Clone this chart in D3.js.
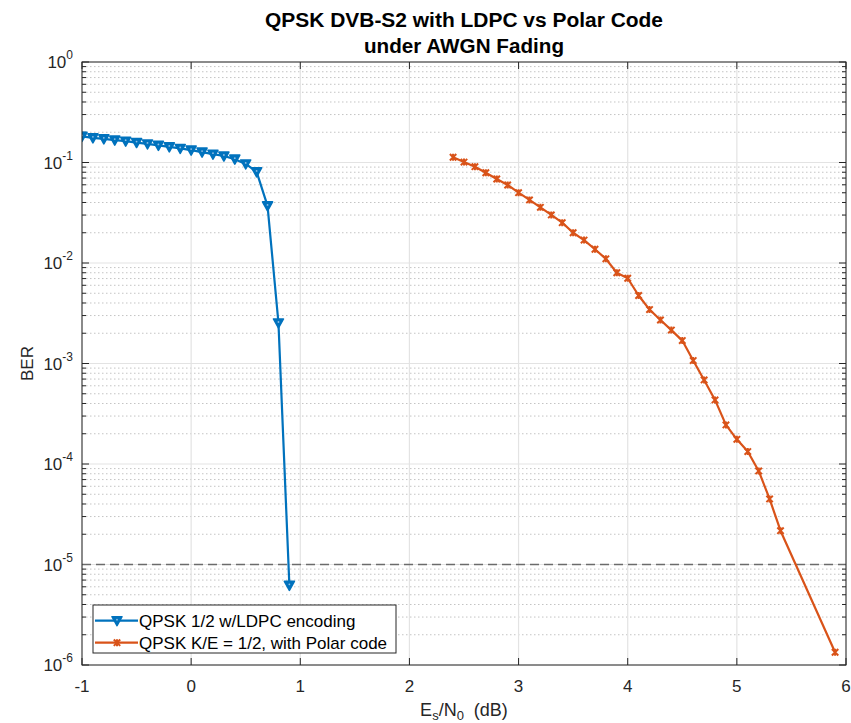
<!DOCTYPE html>
<html>
<head>
<meta charset="utf-8">
<script src="https://cdn.jsdelivr.net/npm/d3@7"></script>
<style>
  html, body { margin: 0; padding: 0; background: #fff; }
  svg { display: block; font-family: "Liberation Sans", Arial, sans-serif; }
</style>
</head>
<body>
<div id="chart"></div>
<script>
// data
const ldpcSnr = [-1.0, -0.9, -0.8, -0.7, -0.6, -0.5, -0.4, -0.3, -0.2, -0.1, 0.0, 0.1, 0.2, 0.3, 0.4, 0.5, 0.6, 0.7, 0.8, 0.9]
const ldpcBer = [0.182, 0.176, 0.172, 0.167, 0.163, 0.158, 0.153, 0.148, 0.143, 0.138, 0.133, 0.127, 0.121, 0.116, 0.108, 0.0967, 0.0806, 0.037, 0.00253, 6.2e-6]

const polarSnr = [2.4, 2.5, 2.6, 2.7, 2.8, 2.9, 3.0, 3.1, 3.2, 3.3, 3.4, 3.5, 3.6, 3.7, 3.8, 3.9, 4.0, 4.1, 4.2, 4.3, 4.4, 4.5, 4.6, 4.7, 4.8, 4.9, 5.0, 5.1, 5.2, 5.3, 5.4, 5.9]
const polarBer = [0.1127, 0.101, 0.0908, 0.0791, 0.0685, 0.0597, 0.0501, 0.0424, 0.0358, 0.0301, 0.0252, 0.0200, 0.0169, 0.0137, 0.0110, 0.0080, 0.00705, 0.00475, 0.00344, 0.00271, 0.00215, 0.00169, 0.00107, 0.000686, 0.000434, 0.000245, 0.000176, 0.000133, 8.53e-5, 4.49e-5, 2.17e-5, 1.34e-6]

const xTicks = [-1, 0, 1, 2, 3, 4, 5, 6]
const yExponents = [0, -1, -2, -3, -4, -5, -6]
const targetBer = 1e-5

const titleLines = ['QPSK DVB-S2 with LDPC vs Polar Code', 'under AWGN Fading']
const legendLabels = ['QPSK 1/2 w/LDPC encoding', 'QPSK K/E = 1/2, with Polar code']

const W = 851, H = 723
const M = { left: 82, top: 62, right: 5, bottom: 58 }
const plotW = W - M.left - M.right
const plotH = H - M.top - M.bottom

const BLUE = '#0072BD'
const ORANGE = '#D95319'
const AX = '#262626'

const svg = d3.select('#chart').append('svg').attr('width', W).attr('height', H)

const x = d3.scaleLinear().domain([-1, 6]).range([0, plotW])
const y = d3.scaleLog().domain([1e-6, 1]).range([plotH, 0])

svg.append('defs').append('clipPath').attr('id', 'plot-clip')
  .append('rect').attr('width', plotW).attr('height', plotH)

const g = svg.append('g').attr('transform', `translate(${M.left},${M.top})`)

// minor y grid (dotted)
const minorVals = []
yExponents.slice(1).forEach(e => {
  for (let k = 2; k <= 9; k++) minorVals.push(k * Math.pow(10, e))
})
g.append('g').selectAll('line').data(minorVals).join('line')
  .attr('x1', 0).attr('x2', plotW)
  .attr('y1', d => y(d)).attr('y2', d => y(d))
  .attr('stroke', '#c4c4c4').attr('stroke-width', 1).attr('stroke-dasharray', '1.5,2.5')

// major grid
g.append('g').selectAll('line').data(yExponents).join('line')
  .attr('x1', 0).attr('x2', plotW)
  .attr('y1', d => y(Math.pow(10, d))).attr('y2', d => y(Math.pow(10, d)))
  .attr('stroke', '#e3e3e3').attr('stroke-width', 1.2)
g.append('g').selectAll('line').data(xTicks).join('line')
  .attr('x1', d => x(d)).attr('x2', d => x(d))
  .attr('y1', 0).attr('y2', plotH)
  .attr('stroke', '#e3e3e3').attr('stroke-width', 1.2)

// axes with inward ticks on all four sides
const tickG = g.append('g').attr('stroke', AX).attr('stroke-width', 1)
xTicks.forEach(t => {
  tickG.append('line').attr('x1', x(t)).attr('x2', x(t)).attr('y1', plotH).attr('y2', plotH - 7)
  tickG.append('line').attr('x1', x(t)).attr('x2', x(t)).attr('y1', 0).attr('y2', 7)
})
yExponents.forEach(e => {
  const yy = y(Math.pow(10, e))
  tickG.append('line').attr('x1', 0).attr('x2', 7).attr('y1', yy).attr('y2', yy)
  tickG.append('line').attr('x1', plotW).attr('x2', plotW - 7).attr('y1', yy).attr('y2', yy)
})
minorVals.forEach(v => {
  const yy = y(v)
  tickG.append('line').attr('x1', 0).attr('x2', 4).attr('y1', yy).attr('y2', yy)
  tickG.append('line').attr('x1', plotW).attr('x2', plotW - 4).attr('y1', yy).attr('y2', yy)
})

// target BER reference line
g.append('line')
  .attr('x1', 0).attr('x2', plotW)
  .attr('y1', y(targetBer)).attr('y2', y(targetBer))
  .attr('stroke', '#6b6b6b').attr('stroke-width', 1.6).attr('stroke-dasharray', '9,5')

// series
const ldpc = ldpcSnr.map((s, i) => ({ s, b: ldpcBer[i] }))
const polar = polarSnr.map((s, i) => ({ s, b: polarBer[i] }))
const line = d3.line().x(d => x(d.s)).y(d => y(d.b))

const dataG = g.append('g').attr('clip-path', 'url(#plot-clip)')
dataG.append('path').datum(ldpc).attr('d', line)
  .attr('fill', 'none').attr('stroke', BLUE).attr('stroke-width', 2.2).attr('stroke-linejoin', 'round')
dataG.append('path').datum(polar).attr('d', line)
  .attr('fill', 'none').attr('stroke', ORANGE).attr('stroke-width', 2.2).attr('stroke-linejoin', 'round')

function triDown(sel, cx, cy) {
  sel.append('path')
    .attr('d', `M${cx - 5},${cy - 4}L${cx + 5},${cy - 4}L${cx},${cy + 5}Z`)
    .attr('fill', BLUE).attr('stroke', BLUE).attr('stroke-width', 1.6).attr('stroke-linejoin', 'round')
  sel.append('circle').attr('cx', cx).attr('cy', cy - 1).attr('r', 0.9).attr('fill', '#8fbde3')
}
function cross(sel, cx, cy) {
  sel.append('path')
    .attr('d', `M${cx - 3.2},${cy - 3.2}L${cx + 3.2},${cy + 3.2}M${cx - 3.2},${cy + 3.2}L${cx + 3.2},${cy - 3.2}M${cx},${cy - 3.5}L${cx},${cy + 3.5}`)
    .attr('stroke', ORANGE).attr('stroke-width', 2).attr('fill', 'none')
}
ldpc.forEach(d => triDown(dataG, x(d.s), y(d.b)))
polar.forEach(d => cross(dataG, x(d.s), y(d.b)))

// box
g.append('rect').attr('width', plotW).attr('height', plotH)
  .attr('fill', 'none').attr('stroke', AX).attr('stroke-width', 1)

// tick labels
g.append('g').selectAll('text').data(xTicks).join('text')
  .attr('x', d => x(d)).attr('y', plotH + 27)
  .attr('text-anchor', 'middle').attr('font-size', 17).attr('fill', AX)
  .text(d => d)

const yl = g.append('g').selectAll('text').data(yExponents).join('text')
  .attr('x', -9).attr('y', d => y(Math.pow(10, d)) + 6)
  .attr('text-anchor', 'end').attr('font-size', 17).attr('fill', AX)
yl.append('tspan').text('10')
yl.append('tspan').attr('dy', -9).attr('font-size', 12).text(d => d)

// axis titles
const xl = svg.append('text').attr('x', M.left + plotW / 2).attr('y', 716)
  .attr('text-anchor', 'middle').attr('font-size', 18).attr('fill', AX)
xl.append('tspan').text('E')
xl.append('tspan').attr('dy', 4).attr('font-size', 13).text('s')
xl.append('tspan').attr('dy', -4).text('/N')
xl.append('tspan').attr('dy', 4).attr('font-size', 13).text('0')
xl.append('tspan').attr('dy', -4).text('\u00a0 (dB)')

svg.append('text')
  .attr('transform', `translate(33,${M.top + plotH / 2}) rotate(-90)`)
  .attr('text-anchor', 'middle').attr('font-size', 17).attr('fill', AX)
  .text('BER')

// title
const titleLen = [398, 200]
svg.append('g').selectAll('text').data(titleLines).join('text')
  .attr('x', M.left + plotW / 2).attr('y', (d, i) => 27 + i * 26)
  .attr('text-anchor', 'middle').attr('font-size', 19.5).attr('font-weight', 'bold').attr('fill', '#000')
  .attr('textLength', (d, i) => titleLen[i]).attr('lengthAdjust', 'spacingAndGlyphs')
  .text(d => d)

// legend
const lg = g.append('g').attr('transform', `translate(11,${plotH - 60})`)
lg.append('rect').attr('width', 303).attr('height', 48)
  .attr('fill', '#fff').attr('stroke', AX).attr('stroke-width', 1)
const markers = [triDown, cross]
const colors = [BLUE, ORANGE]
legendLabels.forEach((lab, i) => {
  const yy = 15.7 + i * 22
  lg.append('line').attr('x1', 2).attr('x2', 45).attr('y1', yy).attr('y2', yy)
    .attr('stroke', colors[i]).attr('stroke-width', 2.2)
  markers[i](lg, 24, yy)
  lg.append('text').attr('x', 46).attr('y', yy + 6)
    .attr('font-size', 17).attr('fill', '#000').text(lab)
})
</script>
</body>
</html>
